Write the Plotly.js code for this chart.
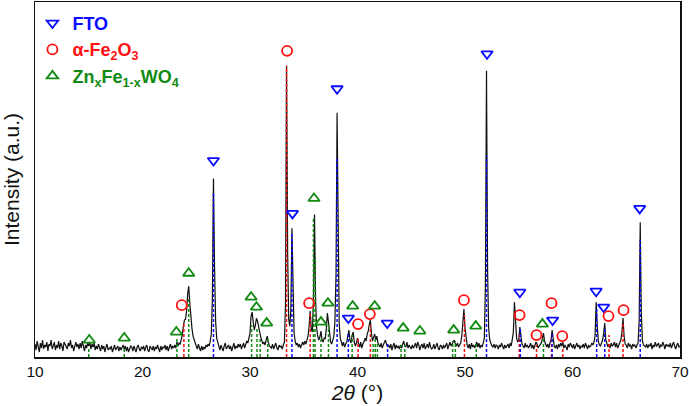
<!DOCTYPE html>
<html>
<head>
<meta charset="utf-8">
<script src="https://cdn.plot.ly/plotly-3.0.1.min.js"></script>
<style>
  html, body { margin: 0; padding: 0; background: #fff; }
  #chart { width: 689px; height: 406px; }
</style>
</head>
<body>
<div id="chart"></div>
<script>
// XRD pattern, 2θ from 10° to 70° in 0.1° steps
const twoThetaStart = 10;
const twoThetaStep = 0.1;
const intensity = [
  13, 7, 16, 10, 5, 14, 9, 17, 8, 12,
  10, 15, 6, 13, 11, 17, 8, 11, 15, 7,
  12, 9, 16, 8, 14, 11, 6, 15, 12, 9,
  8, 14, 11, 17, 9, 12, 6, 11, 15, 10,
  13, 8, 14, 9, 16, 11, 6, 12, 9, 14,
  11, 15, 8, 13, 10, 14, 7, 11, 8, 13,
  10, 6, 12, 8, 11, 5, 10, 13, 7, 9,
  8, 11, 5, 10, 12, 7, 9, 11, 6, 10,
  7, 10, 12, 8, 11, 6, 10, 5, 9, 11,
  10, 6, 11, 8, 5, 10, 12, 8, 6, 10,
  8, 11, 6, 10, 12, 7, 5, 11, 9, 7,
  11, 6, 10, 8, 12, 9, 5, 11, 7, 10,
  9, 12, 7, 11, 6, 10, 13, 8, 11, 9,
  12, 9, 15, 11, 14, 13, 17, 22, 31, 37,
  38, 46, 63, 71, 54, 39, 29, 21, 17, 13,
  11, 8, 13, 9, 6, 11, 7, 10, 8, 12,
  10, 13, 11, 16, 23, 58, 179, 92, 36, 19,
  14, 10, 7, 12, 9, 6, 11, 14, 8, 10,
  12, 8, 11, 6, 10, 14, 8, 11, 9, 13,
  10, 13, 8, 11, 14, 9, 13, 16, 14, 19,
  24, 41, 45, 35, 27, 32, 39, 36, 28, 25,
  20, 17, 13, 15, 12, 17, 21, 15, 11, 10,
  9, 13, 8, 11, 14, 9, 7, 12, 10, 11,
  8, 12, 15, 52, 292, 105, 38, 31, 47, 129,
  62, 24, 16, 12, 14, 10, 13, 9, 12, 15,
  12, 16, 13, 17, 21, 31, 46, 28, 25, 56,
  143, 58, 29, 21, 17, 20, 26, 17, 15, 19,
  18, 29, 44, 35, 21, 15, 13, 16, 21, 36,
  82, 245, 105, 33, 19, 14, 11, 15, 10, 13,
  15, 21, 27, 17, 14, 22, 25, 15, 11, 14,
  19, 13, 10, 15, 9, 13, 15, 19, 16, 23,
  26, 33, 37, 23, 16, 20, 23, 17, 21, 14,
  12, 10, 14, 9, 12, 15, 17, 13, 10, 12,
  9, 13, 7, 11, 14, 8, 12, 9, 11, 8,
  12, 9, 14, 16, 11, 10, 15, 9, 12, 10,
  8, 12, 9, 11, 14, 9, 15, 12, 7, 11,
  13, 9, 14, 8, 11, 13, 9, 15, 10, 8,
  9, 13, 8, 11, 14, 9, 7, 12, 11, 8,
  12, 9, 11, 14, 8, 12, 15, 11, 13, 16,
  17, 13, 11, 14, 10, 12, 14, 21, 33, 48,
  29, 17, 12, 9, 13, 8, 14, 10, 12, 9,
  12, 15, 10, 14, 9, 12, 10, 15, 19, 72,
  287, 88, 29, 17, 13, 11, 10, 13, 9, 12,
  11, 8, 12, 10, 14, 11, 8, 12, 9, 11,
  13, 9, 14, 11, 17, 25, 55, 31, 19, 15,
  17, 30, 21, 13, 11, 9, 14, 10, 12, 9,
  11, 14, 9, 12, 8, 11, 15, 13, 9, 11,
  12, 14, 19, 24, 16, 12, 10, 13, 9, 14,
  17, 27, 17, 11, 9, 12, 8, 13, 10, 14,
  11, 15, 9, 12, 10, 7, 13, 10, 14, 11,
  9, 13, 8, 11, 14, 10, 12, 8, 11, 10,
  13, 9, 14, 11, 8, 12, 10, 11, 14, 12,
  15, 21, 55, 31, 16, 12, 11, 14, 17, 24,
  34, 17, 12, 10, 13, 9, 14, 11, 12, 15,
  10, 14, 9, 12, 13, 17, 25, 39, 21, 13,
  12, 9, 14, 11, 12, 8, 13, 11, 12, 9,
  12, 14, 36, 135, 44, 17, 12, 11, 10, 13,
  9, 12, 11, 14, 8, 12, 10, 15, 11, 12,
  14, 9, 12, 11, 15, 12, 8, 13, 11, 12,
  10, 14, 9, 12, 15, 11, 8, 12, 14, 10,
  11
];

// Reference reflections (position in 2θ, stick height)
const ftoLines = [26.6, 33.9, 38.1, 39.15, 42.8, 52.0, 55.15, 58.1, 62.25, 63.0, 66.3];
const ftoLineHeights = [165, 125, 200, 25, 14, 202, 28, 25, 50, 30, 117];
const fe2o3Lines = [23.85, 33.4, 35.6, 40.05, 41.2, 49.95, 55.05, 56.65, 58.05, 59.1, 63.4, 64.7];
const fe2o3LineHeights = [33, 292, 44, 20, 32, 42, 22, 12, 20, 10, 22, 34];
const zfwLines = [15.0, 18.3, 23.2, 24.3, 30.15, 30.65, 30.95, 31.65, 35.9, 36.05, 36.6, 37.3,
                  39.5, 41.45, 41.65, 41.85, 44.05, 44.4, 48.85, 49.1, 51.05, 57.3];
const zfwLineHeights = [10, 9, 20, 60, 32, 30, 20, 18, 140, 100, 20, 32,
                        22, 15, 18, 14, 12, 12, 16, 16, 15, 20];

// Phase markers placed above the assigned peaks
const ftoMarkX = [26.6, 33.95, 38.1, 39.15, 42.77, 52.05, 55.1, 58.15, 62.2, 62.9, 66.25];
const ftoMarkY = [197, 144, 269, 39, 34, 304, 65, 37, 66, 50, 149];
const fe2o3MarkX = [23.65, 33.45, 35.5, 40.05, 41.15, 49.9, 55.08, 56.65, 58.05, 59.05, 63.35, 64.75];
const fe2o3MarkY = [52, 307, 54, 33, 43, 57, 42, 22, 54, 21, 41, 47];
const zfwMarkX = [15.05, 18.3, 23.15, 24.3, 30.1, 30.6, 31.55, 35.95, 36.6, 37.25, 39.55, 41.6,
                  44.25, 45.8, 48.95, 51.0, 57.2];
const zfwMarkY = [17, 19, 25, 84, 60, 50, 34, 159, 35, 54, 51, 51, 29, 26, 27, 31, 33];

const phaseNames = [
  '<b>FTO</b>',
  '<b>α-Fe<sub>2</sub>O<sub>3</sub></b>',
  '<b>Zn<sub>x</sub>Fe<sub>1-x</sub>WO<sub>4</sub></b>'
];
const xTicks = [10, 20, 30, 40, 50, 60, 70];

const BLUE = '#0a0aff', RED = '#ff1010', GREEN = '#118a11';

const twoTheta = intensity.map((_, i) => +(twoThetaStart + i * twoThetaStep).toFixed(2));

function sticks(pos, h, color) {
  const x = [], y = [];
  pos.forEach((p, i) => { x.push(p, p, null); y.push(0, h[i], null); });
  return {
    x, y, type: 'scatter', mode: 'lines', showlegend: false, hoverinfo: 'skip',
    line: { color, width: 1.5, dash: '3px,2px' }
  };
}

function markers(x, y, name, symbol, color) {
  return {
    x, y, name: `<span style="color:${color}">${name}</span>`,
    type: 'scatter', mode: 'markers',
    marker: { symbol, size: 10, color, line: { color, width: 1.8 } }
  };
}

const data = [
  {
    x: twoTheta, y: intensity, type: 'scatter', mode: 'lines', showlegend: false,
    line: { color: '#111', width: 1.2 }
  },
  sticks(zfwLines, zfwLineHeights, GREEN),
  sticks(fe2o3Lines, fe2o3LineHeights, RED),
  sticks(ftoLines, ftoLineHeights, BLUE),
  markers(ftoMarkX, ftoMarkY, phaseNames[0], 'triangle-down-open', BLUE),
  markers(fe2o3MarkX, fe2o3MarkY, phaseNames[1], 'circle-open', RED),
  markers(zfwMarkX, zfwMarkY, phaseNames[2], 'triangle-up-open', GREEN)
];

const layout = {
  width: 689, height: 406,
  margin: { l: 35, r: 9, t: 2, b: 49, pad: 0 },
  paper_bgcolor: '#fff', plot_bgcolor: '#fff',
  font: { family: '"Liberation Sans", Arial, sans-serif', color: '#111' },
  showlegend: true,
  legend: {
    x: -0.004, y: 0.992, xanchor: 'left', yanchor: 'top',
    bgcolor: 'rgba(0,0,0,0)', borderwidth: 0,
    font: { size: 18, family: '"Liberation Sans", Arial, sans-serif' },
    tracegroupgap: 0, itemwidth: 30
  },
  xaxis: {
    range: [10, 70], tickvals: xTicks, ticktext: xTicks.map(String),
    ticks: '', showgrid: false, zeroline: false, ticklabeloverflow: 'allow',
    showline: true, mirror: true, linecolor: '#111', linewidth: 1.5,
    tickfont: { size: 15.5 },
    title: { text: '<i>2θ</i> (°)', font: { size: 21 }, standoff: 6 }
  },
  yaxis: {
    range: [0, 356], showticklabels: false, ticks: '', showgrid: false, zeroline: false,
    showline: true, mirror: true, linecolor: '#111', linewidth: 1.5,
    title: { text: 'Intensity (a.u.)', font: { size: 21 }, standoff: 8 }
  }
};

Plotly.newPlot('chart', data, layout, { displayModeBar: false, staticPlot: true });
</script>
</body>
</html>
